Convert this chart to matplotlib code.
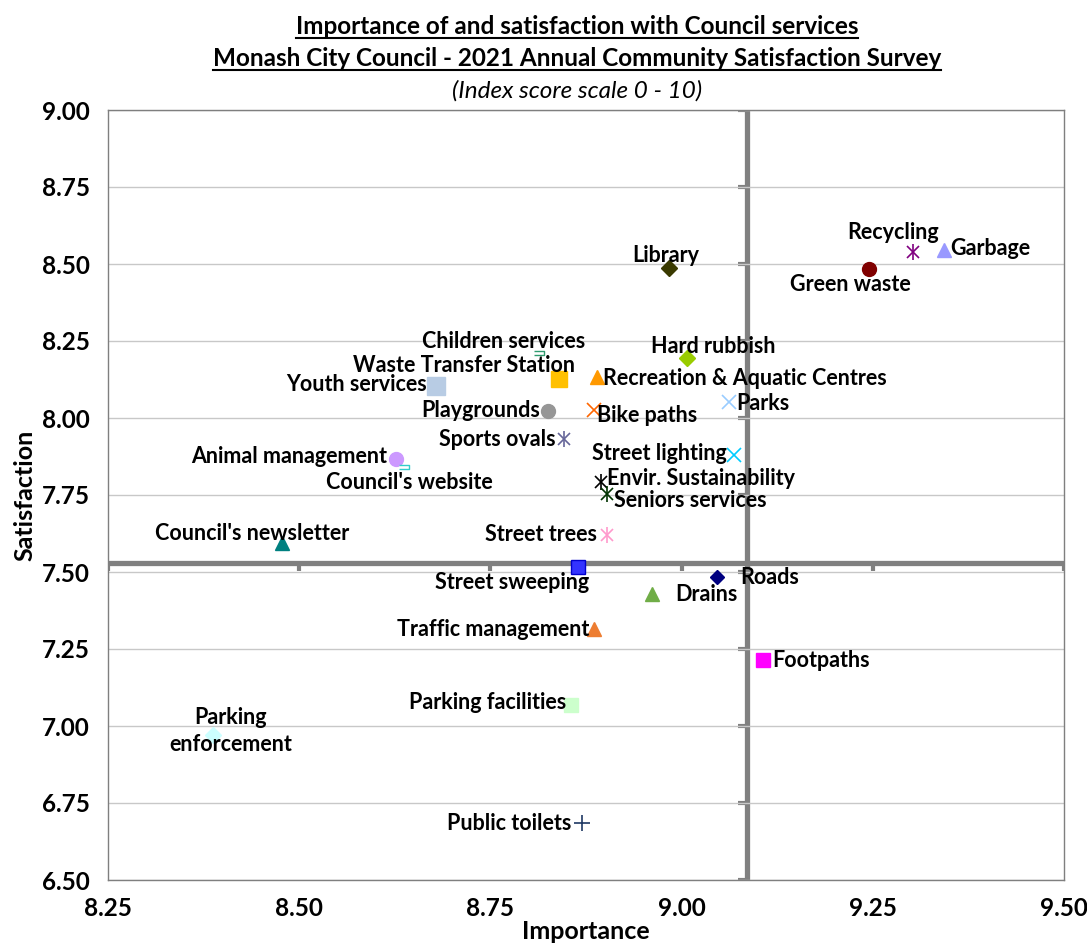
import matplotlib
matplotlib.use("Agg")
import matplotlib.pyplot as plt
from matplotlib.lines import Line2D

# ── DATA ──────────────────────────────────────────────────────────────────────
SERVICES = [
    "Library", "Recycling", "Garbage", "Green waste", "Children services",
    "Waste Transfer Station", "Recreation & Aquatic Centres", "Hard rubbish",
    "Youth services", "Playgrounds", "Bike paths", "Parks", "Sports ovals",
    "Animal management", "Council's website", "Street lighting",
    "Envir. Sustainability", "Seniors services", "Street trees",
    "Council's newsletter", "Street sweeping", "Roads", "Drains",
    "Traffic management", "Footpaths", "Parking facilities",
    "Parking\nenforcement", "Public toilets",
]
IMPORTANCE = [
    8.984, 9.302, 9.343, 9.245, 8.814,
    8.840, 8.890, 9.007,
    8.679, 8.825, 8.885, 9.062, 8.846,
    8.626, 8.637, 9.069,
    8.895, 8.903, 8.902,
    8.478, 8.865, 9.046, 8.961,
    8.886, 9.107, 8.856,
    8.387, 8.870,
]
SATISFACTION = [
    8.487, 8.539, 8.545, 8.484, 8.211,
    8.127, 8.133, 8.195,
    8.104, 8.023, 8.026, 8.052, 7.932,
    7.867, 7.841, 7.880,
    7.792, 7.753, 7.620,
    7.594, 7.516, 7.484, 7.429,
    7.315, 7.214, 7.068,
    6.971, 6.685,
]
MEAN_IMPORTANCE = 9.085
MEAN_SATISFACTION = 7.53

X_TICKS = [8.25, 8.50, 8.75, 9.00, 9.25, 9.50]
Y_TICKS = [6.50, 6.75, 7.00, 7.25, 7.50, 7.75, 8.00, 8.25, 8.50, 8.75, 9.00]

# ── STYLE ─────────────────────────────────────────────────────────────────────
# marker, size, face colour, edge colour
STYLES = [
    ("D", 8, "#3a3a00", "#3a3a00"),
    ("*x", 11, "#800080", "#800080"),
    ("^", 10, "#9999ff", "#9999ff"),
    ("o", 10, "#800000", "#800000"),
    ("dash", 6, "white", "#2e9a6e"),
    ("s", 11, "#ffc000", "#ffc000"),
    ("^", 10, "#ff9900", "#ff9900"),
    ("D", 8, "#99cc00", "#99cc00"),
    ("s", 13, "#b8cce4", "#b8cce4"),
    ("o", 10, "#969696", "#969696"),
    ("x", 10, "#ff6600", "#ff6600"),
    ("x", 10, "#99ccff", "#99ccff"),
    ("*x", 11, "#666699", "#666699"),
    ("o", 10, "#cc99ff", "#cc99ff"),
    ("dash", 6, "white", "#33cccc"),
    ("x", 10, "#00ccff", "#00ccff"),
    ("*x", 11, "#000000", "#000000"),
    ("*x", 11, "#003300", "#003300"),
    ("*x", 11, "#ff99cc", "#ff99cc"),
    ("^", 10, "#008080", "#008080"),
    ("s", 10, "#3333ff", "#0000cc"),
    ("D", 7, "#000080", "#000080"),
    ("^", 10, "#70ad47", "#70ad47"),
    ("^", 10, "#ed7d31", "#ed7d31"),
    ("s", 10, "#ff00ff", "#ff00ff"),
    ("s", 10, "#ccffcc", "#ccffcc"),
    ("D", 8, "#ccffff", "#ccffff"),
    ("+", 11, "#1f3864", "#1f3864"),
]

# label offsets in pixels (dx, dy) and alignment
LABEL_POS = [
    (-4, 2, "center", "bottom"),
    (-20, 9, "center", "bottom"),
    (6, 2, "left", "center"),
    (-19, -5, "center", "top"),
    (-36, 1, "center", "bottom"),
    (-95, 3, "center", "bottom"),
    (6, -1, "left", "center"),
    (26, 1, "center", "bottom"),
    (-9, 1, "right", "center"),
    (-8, 0, "right", "center"),
    (3, -6, "left", "center"),
    (7, -2, "left", "center"),
    (-8, -1, "right", "center"),
    (-8, 2, "right", "center"),
    (5, -5, "center", "top"),
    (-8, 1, "right", "center"),
    (6, 4, "left", "center"),
    (7, -6, "left", "center"),
    (-10, 1, "right", "center"),
    (-30, -1, "center", "bottom"),
    (-66, -5, "center", "top"),
    (23, -1, "left", "center"),
    (23, -1, "left", "center"),
    (-5, -1, "right", "center"),
    (9, 0, "left", "center"),
    (-5, 3, "right", "center"),
    (18, 4, "center", "center"),
    (-11, 0, "right", "center"),
]

FONT = ["Lato", "DejaVu Sans"]
GREY = "#808080"
LABEL_SIZE = 15.5
TICK_SIZE = 17.5

plt.rcParams["font.family"] = FONT

fig = plt.figure(figsize=(10.87, 9.51), dpi=100, facecolor="white")
ax = fig.add_axes([108 / 1087, 1 - 880 / 951, (1064 - 108) / 1087, (880 - 110) / 951])

ax.set_xlim(X_TICKS[0], X_TICKS[-1])
ax.set_ylim(Y_TICKS[0], Y_TICKS[-1])
ax.set_xticks(X_TICKS)
ax.set_yticks(Y_TICKS)
ax.set_xticklabels([f"{v:.2f}" for v in X_TICKS], fontsize=TICK_SIZE, fontweight="bold")
ax.set_yticklabels([f"{v:.2f}" for v in Y_TICKS], fontsize=TICK_SIZE, fontweight="bold")
ax.tick_params(axis="y", length=0, pad=13)
ax.tick_params(axis="x", length=0, pad=12)
ax.grid(axis="y", color="#c8c8c8", linewidth=1.0, zorder=0)
for sp in ax.spines.values():
    sp.set_color("#7f7f7f")
    sp.set_linewidth(1.0)

# crosshair (means)
ax.axvline(MEAN_IMPORTANCE, color=GREY, linewidth=3.8, zorder=1)
ax.axhline(MEAN_SATISFACTION, color=GREY, linewidth=3.8, zorder=1)
ax.hlines(Y_TICKS, MEAN_IMPORTANCE - 0.011, MEAN_IMPORTANCE, color=GREY, linewidth=3, zorder=1)
ax.vlines(X_TICKS, MEAN_SATISFACTION - 0.027, MEAN_SATISFACTION, color=GREY, linewidth=3, zorder=1)

for name, x, y, st, lp in zip(SERVICES, IMPORTANCE, SATISFACTION, STYLES, LABEL_POS):
    mk, ms, fc, ec = st
    if mk == "*x":
        ax.plot(x, y, marker="x", ms=ms * 0.85, color=ec, mew=1.2, zorder=4)
        ax.plot(x, y, marker="|", ms=ms, color=ec, mew=1.2, zorder=4)
    elif mk == "dash":
        ax.scatter([x], [y], marker=[(-2.5, -0.8), (2.5, -0.8), (2.5, 0.8), (-2.5, 0.8)],
                   s=60, facecolor=fc, edgecolor=ec, linewidth=1.0, zorder=4)
    elif mk in ("x", "+"):
        ax.plot(x, y, marker=mk, ms=ms, color=ec, mew=1.2, zorder=4)
    else:
        ax.plot(x, y, marker=mk, ms=ms, color=fc, mec=ec, mew=1.0, zorder=4)
    dx, dy, ha, va = lp
    ax.annotate(name, (x, y), xytext=(dx * 0.72, dy * 0.72), textcoords="offset points",
                ha=ha, va=va, fontsize=LABEL_SIZE, fontweight="bold", color="black",
                linespacing=1.35, zorder=5)

ax.set_xlabel("Importance", fontsize=18, fontweight="bold", labelpad=0)
ax.set_ylabel("Satisfaction", fontsize=18, fontweight="bold", labelpad=4)

# titles
cx = 577 / 1087
t1 = fig.text(cx, 1 - 27 / 951, "Importance of and satisfaction with Council services",
              ha="center", va="center", fontsize=17.5, fontweight="bold")
t2 = fig.text(cx, 1 - 59 / 951, "Monash City Council - 2021 Annual Community Satisfaction Survey",
              ha="center", va="center", fontsize=17.5, fontweight="bold")
fig.text(cx, 1 - 91 / 951, "(Index score scale 0 - 10)", ha="center", va="center",
         fontsize=17.5, fontstyle="italic")

fig.canvas.draw()
r = fig.canvas.get_renderer()
for t in (t1, t2):
    bb = t.get_window_extent(r).transformed(fig.transFigure.inverted())
    fig.add_artist(Line2D([bb.x0, bb.x1], [bb.y0 + 0.001, bb.y0 + 0.001],
                          transform=fig.transFigure, color="black", linewidth=1.5))

fig.savefig("out.png", dpi=100, facecolor="white")
